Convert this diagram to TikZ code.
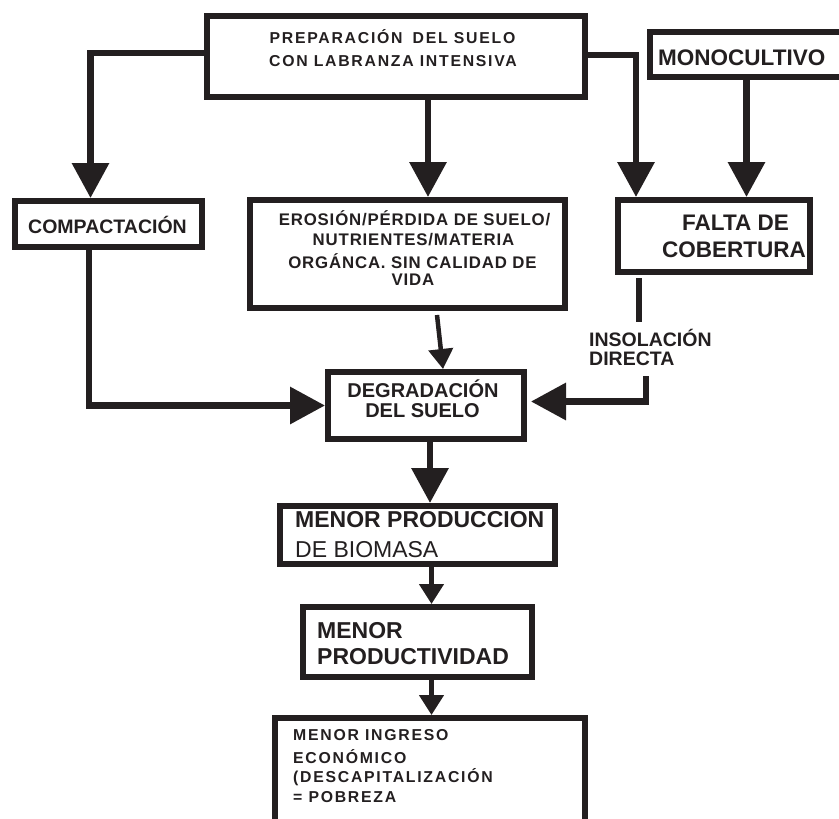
\documentclass[tikz,border=0pt]{standalone}
\usepackage{fontspec}
\setmainfont{Liberation Sans}
\newfontfamily\spacedA[LetterSpace=11]{Liberation Sans}
\newfontfamily\spacedB[LetterSpace=5]{Liberation Sans}
\usetikzlibrary{arrows.meta}
\definecolor{ink}{RGB}{35,31,32}
\tikzset{
  box/.style 2 args={draw=ink,line width=6pt,minimum width=#1,minimum height=#2,inner sep=0pt},
  big/.style={draw=ink,line width=6.5pt,-{Triangle[length=35pt,width=36pt]}},
  small/.style={draw=ink,line width=4.5pt,-{Triangle[length=20pt,width=24pt]}},
  seg/.style={draw=ink,line width=6.5pt},
  tx/.style={text=ink,inner sep=0pt,anchor=base},
  txl/.style={text=ink,inner sep=0pt,anchor=base west},
  fA/.style={font=\spacedA\bfseries\fontsize{15.8}{18}\selectfont},
  fB/.style={font=\spacedB\bfseries\fontsize{16.8}{20}\selectfont},
  fbig/.style={font=\bfseries\fontsize{22.5}{26}\selectfont},
  fmid/.style={font=\bfseries\fontsize{19.5}{22}\selectfont},
  fdeg/.style={font=\bfseries\fontsize{20}{23}\selectfont},
  fprod/.style={font=\bfseries\fontsize{23}{26}\selectfont},
  fprodr/.style={font=\fontsize{23}{26}\selectfont},
}
\begin{document}
\begin{tikzpicture}[x=1pt,y=-1pt]
\useasboundingbox (0,0) rectangle (839,819);
% boxes
\node[box={378pt}{81pt}] (top) at (396,56.5) {};
\node[box={195pt}{45pt}] (mono) at (747.5,54.5) {};
\node[box={192pt}{72pt}] (falta) at (714,236) {};
\node[box={187pt}{46pt}] (comp) at (108.5,224) {};
\node[box={315pt}{108pt}] (ero) at (407.5,254) {};
\node[box={196pt}{67pt}] (deg) at (426,405.5) {};
\node[box={275pt}{58pt}] (mpb) at (417.5,535) {};
\node[box={229pt}{70pt}] (mprod) at (417.5,642) {};
\node[box={310pt}{106pt}] (ming) at (430,771) {};
% texts
\node[tx,fA] (topA) at (392.5,43) {PREPARACIÓN\hspace{4pt} DEL SUELO};
\node[tx,fA] (topB) at (393,66) {CON LABRANZA INTENSIVA};
\node[txl,fbig] (monoT) at (658,65) {MONOCULTIVO};
\node[txl,fbig] (faltaA) at (682,230) {FALTA DE};
\node[txl,fbig] (faltaB) at (662,257) {COBERTURA};
\node[tx,fmid] (compT) at (107.5,233) {COMPACTACIÓN};
\node[tx,fB] (eroA) at (414.5,225) {EROSIÓN/PÉRDIDA DE SUELO/};
\node[tx,fB] (eroB) at (413.5,245) {NUTRIENTES/MATERIA};
\node[tx,fB] (eroC) at (412.5,268) {ORGÁNCA. SIN CALIDAD DE};
\node[tx,fB] (eroD) at (413,285) {VIDA};
\node[tx,fdeg] (degA) at (423,397) {DEGRADACIÓN};
\node[tx,fdeg] (degB) at (422.5,417) {DEL SUELO};
\node[txl,fmid] (insA) at (589,346) {INSOLACIÓN};
\node[txl,fmid] (insB) at (589,365) {DIRECTA};
\node[txl,fprod] (mpbA) at (295,527) {MENOR PRODUCCION};
\node[txl,fprodr] (mpbB) at (295,557) {DE BIOMASA};
\node[txl,fprod] (mprodA) at (317,638) {MENOR};
\node[txl,fprod] (mprodB) at (317,664) {PRODUCTIVIDAD};
\node[txl,fA] (mingA) at (293,740) {MENOR INGRESO};
\node[txl,fA] (mingB) at (293,763) {ECONÓMICO};
\node[txl,fA] (mingC) at (293,782) {(DESCAPITALIZACIÓN};
\node[txl,fA] (mingD) at (293,802) {= POBREZA};
% connectors
\draw[big] ([yshift=3.5pt]top.west) -| ([xshift=-18pt]comp.north);
\draw[big] ([xshift=32pt]top.south) -- ([xshift=20.5pt]ero.north);
\draw[big] ([yshift=1.5pt]top.east) -| ([xshift=-78pt]falta.north);
\draw[big] ([xshift=-1pt]mono.south) -- ([xshift=32.5pt]falta.north);
\draw[big] ([xshift=-19.5pt]comp.south) |- (deg.west);
\draw[small] ([xshift=29.5pt,yshift=-4pt]ero.south) -- ([xshift=17pt]deg.north);
\draw[seg] ([xshift=-75pt,yshift=-3pt]falta.south) -- ([xshift=-75pt,yshift=-47pt]falta.south);
\coordinate (insD) at (646,376);
\draw[big] (insD) |- ([yshift=4pt,xshift=4pt]deg.east);
\draw[big] ([xshift=4pt]deg.south) -- ([xshift=12.5pt]mpb.north);
\draw[small] ([xshift=14pt]mpb.south) -- ([xshift=14pt]mprod.north);
\draw[small] ([xshift=14pt]mprod.south) -- ([xshift=1.5pt]ming.north);
\end{tikzpicture}
\end{document}
